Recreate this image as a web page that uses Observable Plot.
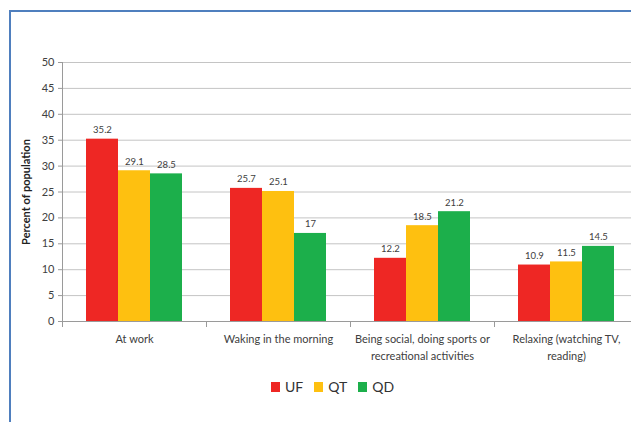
<!DOCTYPE html>
<html>
<head>
<meta charset="utf-8">
<script src="https://cdn.jsdelivr.net/npm/d3@7"></script>
<script src="https://cdn.jsdelivr.net/npm/@observablehq/plot@0.6"></script>
<style>
  html, body { margin: 0; padding: 0; width: 631px; height: 422px; overflow: hidden; background: #fff; }
  #frame { position: absolute; left: 9px; top: 10px; width: 800px; height: 600px;
           border-left: 2px solid #4f7fbe; border-top: 2px solid #4f7fbe; }
  #chart { position: absolute; left: 0; top: 0; width: 660px; }
  #chart svg { max-width: none !important; }
  #legend { position: absolute; top: 378px; left: 271px; display: flex; align-items: center;
            font-family: Lato, sans-serif; font-size: 14px; color: #333; }
  #legend .item { display: flex; align-items: center; margin-right: 11px; }
  #legend .sw { width: 9px; height: 10px; margin-right: 5px; }
</style>
</head>
<body>
<div id="frame"></div>
<div id="chart"></div>
<div id="legend"></div>
<script>
const categories = ["At work", "Waking in the morning", "Being social, doing sports or\nrecreational activities", "Relaxing (watching TV,\nreading)"];
const series = ["UF", "QT", "QD"];
const ufValues = [35.2, 25.7, 12.2, 10.9];
const qtValues = [29.1, 25.1, 18.5, 11.5];
const qdValues = [28.5, 17, 21.2, 14.5];
const colors = ["#ee2724", "#fec010", "#1caf4b"];
const yTicks = [0, 5, 10, 15, 20, 25, 30, 35, 40, 45, 50];

const seriesValues = [ufValues, qtValues, qdValues];
const data = [];
categories.forEach((c, i) => {
  series.forEach((s, j) => data.push({category: c, series: s, value: seriesValues[j][i]}));
});

const W = 660, H = 365, mT = 62, mB = 44, mL = 61, mR = 21;
const plotH = H - mT - mB;

const chart = Plot.plot({
  width: W, height: H,
  marginTop: mT, marginBottom: mB, marginLeft: mL, marginRight: mR,
  style: {fontFamily: "Lato, sans-serif", fontSize: "11px", color: "#404040", background: "transparent", maxWidth: "none"},
  fx: {domain: categories, padding: 0, label: null, axis: null},
  x: {domain: series, paddingInner: 0, paddingOuter: 0.75, axis: null},
  y: {domain: [0, 50], label: null},
  color: {domain: series, range: colors},
  marks: [
    Plot.gridY(yTicks.filter(d => d > 0), {stroke: "#c4c4c4", strokeOpacity: 1}),
    Plot.barY(data, {fx: "category", x: "series", y: "value", fill: "series"}),
    Plot.text(data, {fx: "category", x: "series", y: "value", text: d => String(d.value),
      dy: -6, lineAnchor: "bottom", fontSize: 9.5, fill: "#404040"}),
    Plot.ruleY([0], {stroke: "#9a9a9a"}),
    Plot.frame({anchor: "left", insetTop: plotH, insetBottom: -5, stroke: "#9a9a9a"}),
    Plot.frame({anchor: "left", facet: "super", insetBottom: -5, stroke: "#9a9a9a"}),
    Plot.axisY({ticks: yTicks, tickSize: 4, tickPadding: 4, fontSize: 11, stroke: "#9a9a9a",
      label: "Percent of population", labelAnchor: "center", labelArrow: "none", labelOffset: 40}),
    Plot.axisFx({anchor: "bottom", tickSize: 0, tickPadding: 10, fontSize: 11, label: null, lineHeight: 1.5, lineWidth: Infinity})
  ]
});
chart.querySelectorAll("[aria-label='y-axis label'] text, [aria-label='y-axis label']").forEach(e => {
  e.setAttribute("font-weight", "bold");
  e.setAttribute("fill", "#222");
});
document.getElementById("chart").appendChild(chart);

const legend = document.getElementById("legend");
series.forEach((s, i) => {
  const item = document.createElement("div");
  item.className = "item";
  const sw = document.createElement("div");
  sw.className = "sw";
  sw.style.background = colors[i];
  const t = document.createElement("span");
  t.textContent = s;
  item.appendChild(sw);
  item.appendChild(t);
  legend.appendChild(item);
});
</script>
</body>
</html>
